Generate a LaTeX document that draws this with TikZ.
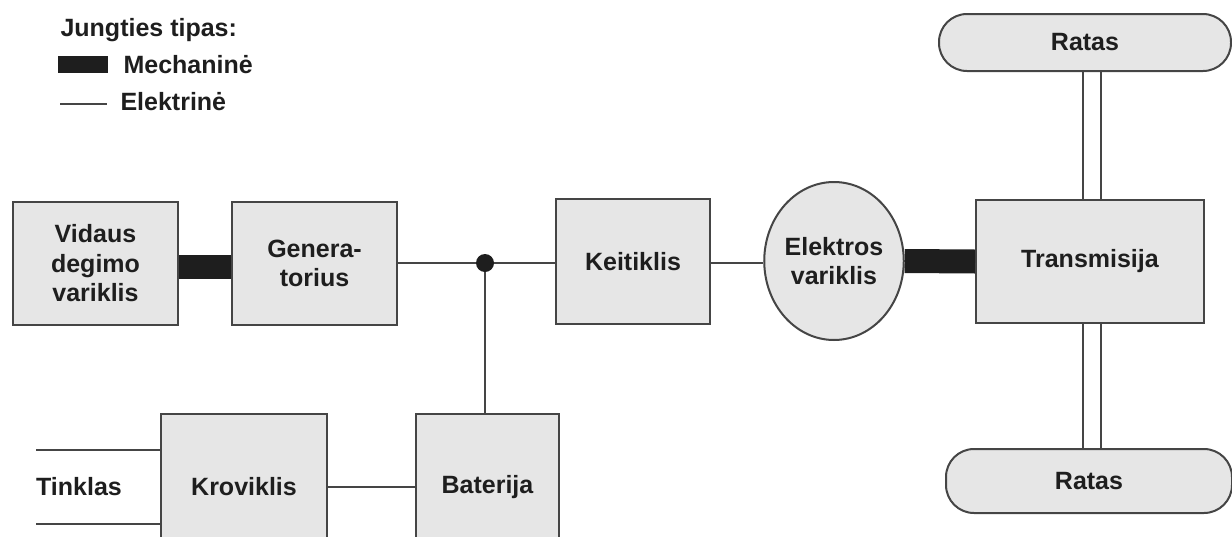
\documentclass[tikz,border=0pt]{standalone}
\usepackage{fontspec}
\setmainfont{Liberation Sans}
\usetikzlibrary{shapes.geometric}
\definecolor{boxfill}{HTML}{E6E6E6}
\definecolor{edge}{HTML}{454545}
\definecolor{ink}{HTML}{1E1E1E}
\begin{document}
\begin{tikzpicture}[x=1pt,y=-1pt,
  every node/.style={font=\bfseries\fontsize{25}{29.5}\selectfont, text=ink, align=center},
  block/.style={draw=edge, line width=2pt, fill=boxfill, rectangle, inner sep=0pt},
  wheel/.style={block, rounded corners=28pt},
  mech/.style={draw=ink, line width=24pt},
  elec/.style={draw=edge, line width=2pt}]
\useasboundingbox (0,0) rectangle (1232,536);

% legend
\node[anchor=west] (lgtitle) at (57,30) {Jungties tipas:};
\fill[ink] (58,56) rectangle (108,73);
\node[anchor=west] (lgmech) at (120,65) {Mechaninė};
\draw[elec] (60,104) -- (107,104);
\node[anchor=west] (lgelec) at (117,102) {Elektrinė};

% blocks
\node[block, minimum width=165pt, minimum height=123pt] (vid) at (95.5,263.5) {Vidaus\\degimo\\variklis};
\node[block, minimum width=165pt, minimum height=123pt] (gen) at (314.5,263.5) {Genera-\\torius};
\node[block, minimum width=154pt, minimum height=125pt] (keit) at (633,261.5) {Keitiklis};
\node[block, ellipse, minimum width=138pt, minimum height=158pt] (mot) at (834,261) {Elektros\\variklis};
\node[block, minimum width=228pt, minimum height=123pt] (trans) at (1090,261.5) {Transmisija};
\node[wheel, minimum width=292pt, minimum height=57pt] (rtop) at (1085,42.5) {Ratas};
\node[wheel, minimum width=286pt, minimum height=64pt] (rbot) at (1089,481) {Ratas};
\node[block, minimum width=166pt, minimum height=146pt] (krov) at (244,487) {Kroviklis};
\node[block, minimum width=143pt, minimum height=146pt] (bat) at (487.5,487) {Baterija};
\node (tink) at (79,487) {Tinklas};

% junction of the electric bus
\coordinate (J) at (485,263);
\coordinate (g1) at (36,450);
\coordinate (g2) at (36,524);

% mechanical links
\draw[mech] ([yshift=-3pt]vid.east) -- ([yshift=-3pt]gen.west);
\draw[mech] (mot.east) -- (trans.west);
\foreach \dx in {-7,11}{
  \draw[elec] ([xshift=\dx pt]trans.north) -- ([xshift=\dx pt]trans.north |- rtop.south);
  \draw[elec] ([xshift=\dx pt]trans.south) -- ([xshift=\dx pt]trans.south |- rbot.north);
}

% electric links
\draw[elec] (gen.east |- J) -- (J) -- (keit.west |- J);
\draw[elec] (J) -- (J |- bat.north);
\draw[elec] (keit.east |- J) -- (mot.west |- J);
\draw[elec] (krov.east) -- (bat.west);
\draw[elec] (g1) -- (g1 -| krov.west);
\draw[elec] (g2) -- (g2 -| krov.west);
\fill[ink] (J) circle (9pt);
\end{tikzpicture}
\end{document}
